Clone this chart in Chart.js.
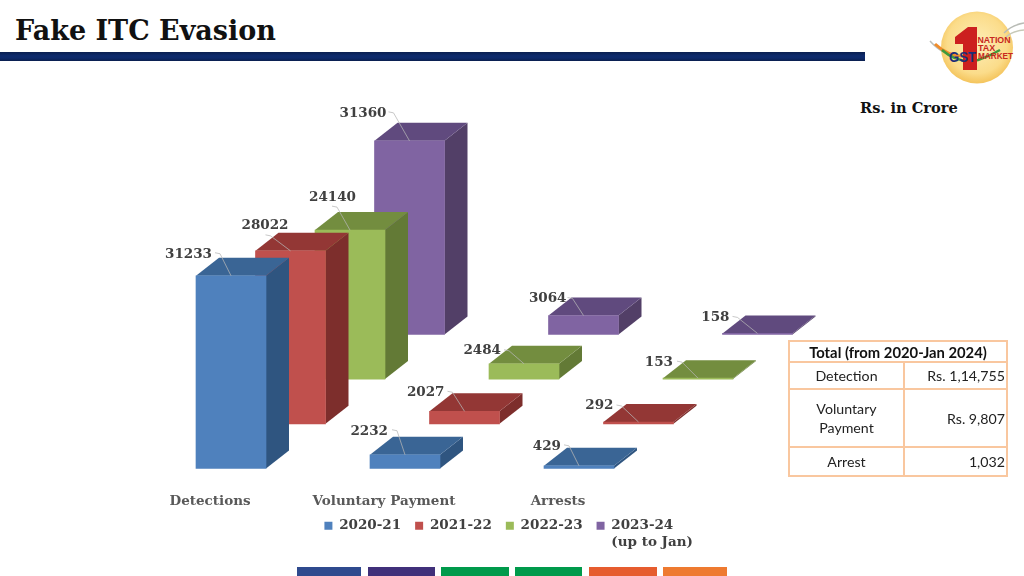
<!DOCTYPE html>
<html>
<head>
<meta charset="utf-8">
<title>Fake ITC Evasion</title>
<script src="https://cdn.jsdelivr.net/npm/chart.js@4/dist/chart.umd.min.js"></script>
<style>
  html, body { margin: 0; padding: 0; background: #fff; width: 1024px; height: 576px; overflow: hidden; }
  #chart { position: absolute; left: 0; top: 0; }
  .title { position: absolute; left: 15px; top: 15px; font: bold 27px "DejaVu Serif"; color: #111; }
  .rule { position: absolute; left: 0; top: 52px; width: 865px; height: 9px; background: linear-gradient(#0a1f4f, #0d2a6b 40%, #0d2a6b 65%, #0a1f4f); }
  .unit { position: absolute; left: 860px; top: 99px; font: bold 14.6px "DejaVu Serif"; color: #111; }
  table { position: absolute; left: 788px; top: 340px; width: 218px; height: 135px; border-collapse: collapse; font: 14.2px Lato; color: #222; table-layout: fixed; }
  td { border: 2px solid #f9c79f; padding: 0 1px; text-align: center; }
  td.num { text-align: right; }
  th { border: 2px solid #f9c79f; font: bold 14.8px Lato; color: #111; padding: 0; }
  .strip { position: absolute; top: 567px; height: 9px; }
  #logo { position: absolute; left: 925px; top: 0; }
</style>
</head>
<body>
<div class="title">Fake ITC Evasion</div>
<div class="rule"></div>
<div class="unit">Rs. in Crore</div>

<svg id="logo" width="99" height="90" viewBox="925 0 99 90">
  <defs>
    <radialGradient id="sun" cx="50%" cy="45%" r="55%">
      <stop offset="0" stop-color="#fdeeb8"/>
      <stop offset="0.75" stop-color="#fbdc8a"/>
      <stop offset="1" stop-color="#f4c45c"/>
    </radialGradient>
  </defs>
  <circle cx="977" cy="47.5" r="36" fill="url(#sun)"/>
  <path d="M930 41 Q945 58 965 56" fill="none" stroke="#b9bcb6" stroke-width="1.5"/>
  <path d="M1024 23 Q1012 25 1004 33" fill="none" stroke="#b9bcb6" stroke-width="1.5"/>
  <path d="M1024 30 Q1012 31 1006 37" fill="none" stroke="#c7c9b8" stroke-width="1.5"/>
  <path d="M935 44 Q950 58 968 56" fill="none" stroke="#f08c2a" stroke-width="3"/>
  <path d="M942 50 Q958 64 978 60 Q990 56 1000 50" fill="none" stroke="#3f9a3a" stroke-width="2.5"/>
  <polygon points="955,37 968,27 977,27 977,70 963,70 963,44 955,44" fill="#cc1f1f"/>
  <text x="949" y="62" textLength="27" lengthAdjust="spacingAndGlyphs" font-family="Liberation Sans" font-weight="bold" font-size="14" fill="#1c2f78">GST</text>
  <text x="977.5" y="43" textLength="33" lengthAdjust="spacingAndGlyphs" font-family="Liberation Sans" font-weight="bold" font-size="9" fill="#c8281e">NATION</text>
  <text x="978" y="51" font-family="Liberation Sans" font-weight="bold" font-size="9" fill="#c8281e">TAX</text>
  <text x="978" y="59" textLength="35" lengthAdjust="spacingAndGlyphs" font-family="Liberation Sans" font-weight="bold" font-size="9" fill="#c8281e">MARKET</text>
</svg>

<canvas id="chart" width="1024" height="576"></canvas>

<table>
  <colgroup><col style="width:115px"><col style="width:103px"></colgroup>
  <tr style="height:21px"><th colspan="2">Total (from 2020-Jan 2024)</th></tr>
  <tr style="height:27px"><td>Detection</td><td class="num">Rs. 1,14,755</td></tr>
  <tr style="height:58px"><td style="line-height:19px">Voluntary<br>Payment</td><td class="num">Rs. 9,807</td></tr>
  <tr style="height:29px"><td>Arrest</td><td class="num">1,032</td></tr>
</table>

<div class="strip" style="left:297px;width:64px;background:#2f4a8e"></div>
<div class="strip" style="left:368px;width:67px;background:#40307a"></div>
<div class="strip" style="left:441px;width:68px;background:#009a4b"></div>
<div class="strip" style="left:515px;width:67px;background:#009a4b"></div>
<div class="strip" style="left:589px;width:68px;background:#e65c2e"></div>
<div class="strip" style="left:663px;width:64px;background:#ee7a30"></div>

<script>
const categories = ['Detections', 'Voluntary Payment', 'Arrests'];
const seriesNames = ['2020-21', '2021-22', '2022-23', ['2023-24', '(up to Jan)']];
const values2020 = [31233, 2232, 429];
const values2021 = [28022, 2027, 292];
const values2022 = [24140, 2484, 153];
const values2023 = [31360, 3064, 158];

const frontColors = ['#4f81bd', '#c0504d', '#9bbb59', '#8064a2'];
const topColors = ['#3a6595', '#933735', '#738d3f', '#604a7e'];
const sideColors = ['#2f5580', '#7d2e2c', '#637a36', '#523f67'];

// each series sits further back in the fake 3D floor
const stepX = 59.5, stepY = 44.7;
const depthX = 23, depthY = 18;

// hand placed labels, relative to the middle of the bar's top edge:
// text right edge dx, text dy, leader start dx, leader start dy
const labelPlaces = [
  [[-19, -21, -16, -23], [-17, -23, -13, -25], [-18, -19, -15, -21]],
  [[-2, -25, -25, -16], [-20, -19, -17, -20], [-25, -16, -22, -17]],
  [[6, -33, -18, -24], [-23, -13, -20, -14], [-25, -16, -21, -17]],
  [[-23, -27, -21, -29], [-17, -17, -16, -18], [-28, -16, -25, -17]]
];

const fakeDepth = {
  id: 'fakeDepth',
  afterLayout(chart) {
    // legend belongs under the whole slide, not just the plot
    const legend = chart.legend;
    const shift = 542 - (legend.left + legend.right) / 2;
    legend.left += shift;
    legend.right += shift;
    legend.top = 505;
  },
  beforeDatasetDraw(chart, args) {
    const ctx = chart.ctx, i = args.index;
    ctx.save();
    ctx.translate(stepX * i, -stepY * i);
    args.meta.data.forEach(bar => {
      const left = bar.x - bar.width / 2, right = bar.x + bar.width / 2;
      ctx.fillStyle = sideColors[i];
      ctx.beginPath();
      ctx.moveTo(right, bar.y);
      ctx.lineTo(right + depthX, bar.y - depthY);
      ctx.lineTo(right + depthX, bar.base - depthY);
      ctx.lineTo(right, bar.base);
      ctx.closePath();
      ctx.fill();
      ctx.fillStyle = topColors[i];
      ctx.beginPath();
      ctx.moveTo(left, bar.y);
      ctx.lineTo(left + depthX, bar.y - depthY);
      ctx.lineTo(right + depthX, bar.y - depthY);
      ctx.lineTo(right, bar.y);
      ctx.closePath();
      ctx.fill();
    });
  },
  afterDatasetDraw(chart) {
    chart.ctx.restore();
  },
  afterDatasetsDraw(chart) {
    const ctx = chart.ctx;
    ctx.save();
    ctx.font = 'bold 13.5px "DejaVu Serif"';
    ctx.fillStyle = '#404040';
    ctx.textAlign = 'right';
    ctx.textBaseline = 'middle';
    ctx.strokeStyle = '#b5b5b5';
    ctx.lineWidth = 0.75;
    chart.data.datasets.forEach((ds, i) => {
      chart.getDatasetMeta(i).data.forEach((bar, j) => {
        const cx = bar.x + stepX * i, top = bar.y - stepY * i;
        const p = labelPlaces[i][j];
        ctx.beginPath();
        ctx.moveTo(cx + p[2], top + p[3]);
        ctx.lineTo(cx + p[2] + 5, top + p[3] + 1);
        ctx.lineTo(cx, top);
        ctx.stroke();
        ctx.fillText(ds.data[j], cx + p[0], top + p[1]);
      });
    });
    ctx.restore();
  }
};

const allValues = [values2020, values2021, values2022, values2023];

new Chart(document.getElementById('chart'), {
  type: 'bar',
  data: {
    labels: categories,
    datasets: allValues.map((vals, i) => ({
      label: seriesNames[i],
      data: vals,
      backgroundColor: frontColors[i],
      clip: false
    }))
  },
  plugins: [fakeDepth],
  options: {
    responsive: false,
    animation: false,
    layout: { padding: { left: 144, right: 358, top: 271, bottom: 0 } },
    datasets: { bar: { grouped: false, barThickness: 70 } },
    scales: {
      x: {
        grid: { display: false },
        border: { display: false },
        ticks: {
          padding: 17,
          labelOffset: -21,
          maxRotation: 0,
          autoSkip: false,
          color: '#595959',
          font: { family: 'DejaVu Serif', weight: 'bold', size: 13.5 }
        },
        afterFit(scale) { scale.height = 70; }
      },
      y: { display: false, min: 0, max: 32000 }
    },
    plugins: {
      tooltip: { enabled: false },
      legend: {
        position: 'bottom',
        labels: {
          boxWidth: 8,
          boxHeight: 8,
          padding: 14,
          color: '#404040',
          font: { family: 'DejaVu Serif', weight: 'bold', size: 13.5, lineHeight: 1.25 }
        }
      }
    }
  }
});
</script>
</body>
</html>
